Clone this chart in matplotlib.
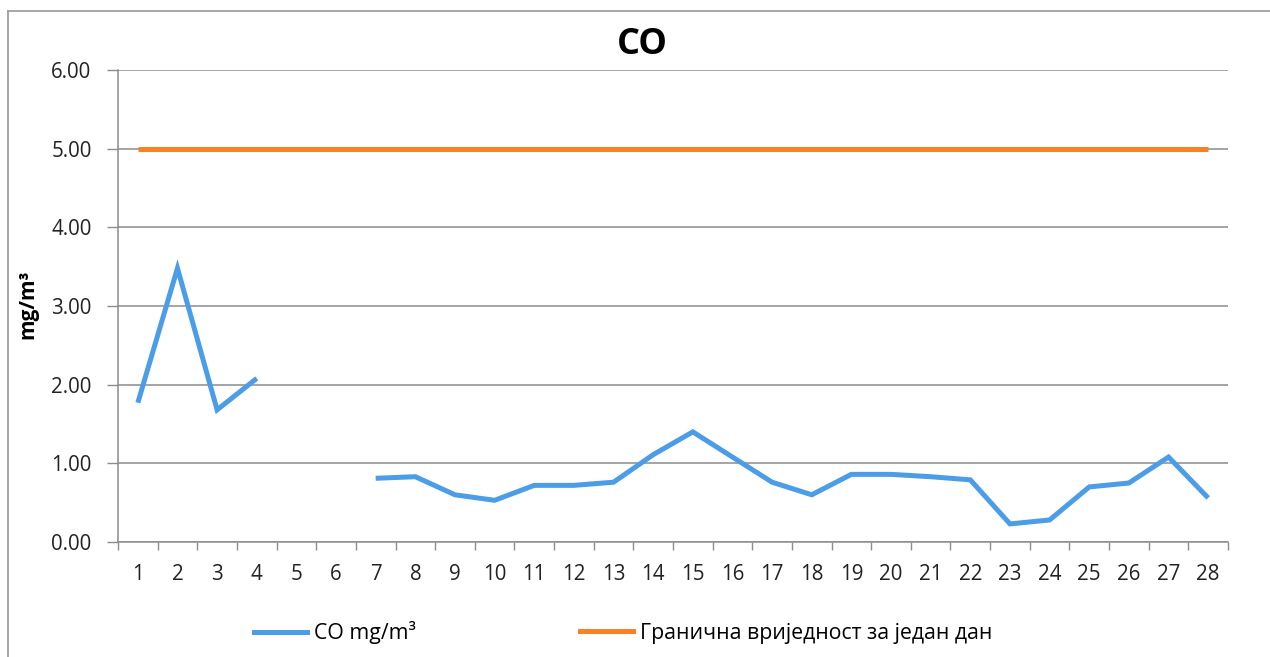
import numpy as np
import matplotlib
matplotlib.use("Agg")
import matplotlib.pyplot as plt
from matplotlib.lines import Line2D

plt.rcParams['font.family'] = ['Open Sans', 'DejaVu Sans']

days = list(range(1, 29))
co_values = [1.77, 3.48, 1.68, 2.08, np.nan, np.nan, 0.81, 0.83, 0.60, 0.53,
             0.72, 0.72, 0.76, 1.11, 1.40, 1.08, 0.76, 0.60, 0.86, 0.86,
             0.83, 0.79, 0.23, 0.28, 0.70, 0.75, 1.08, 0.56]
limit_values = [5.0] * 28
y_ticks = [0, 1, 2, 3, 4, 5, 6]
title = "CO"
y_label = "mg/m³"
series_names = ["CO mg/m³", "Гранична вриједност за један дан"]

W, H = 1270, 657
fig = plt.figure(figsize=(W / 100, H / 100), dpi=100)
L, R, T, B = 118, 1228, 70, 542
ax = fig.add_axes([L / W, 1 - B / H, (R - L) / W, (B - T) / H])

blue = '#4A9DE6'
orange = '#FF7F27'
grid_c = '#8C8C8C'
text_c = '#222222'

x = np.array(days)
ax.plot(x, limit_values, color=orange, lw=3.6, solid_capstyle='butt', zorder=3)
ax.plot(x, co_values, color=blue, lw=3.6, solid_joinstyle='miter', solid_capstyle='butt', zorder=4)

ax.set_xlim(0.5, 28.5)
ax.set_ylim(0, 6)
ax.set_yticks(y_ticks)
ax.set_yticklabels([f"{v:.2f}" for v in y_ticks])
ax.yaxis.grid(True, color=grid_c, lw=1.1)
ax.set_axisbelow(True)

ax.set_xticks(np.arange(0.5, 29.0, 1.0))
ax.set_xticklabels([])
ax.set_xticks(x, minor=True)
ax.set_xticklabels([str(d) for d in days], minor=True)
ax.tick_params(axis='x', which='major', length=6, width=1, color=grid_c, direction='out')
ax.tick_params(axis='x', which='minor', length=0, pad=16, labelsize=14.8, labelcolor=text_c)
ax.tick_params(axis='y', length=8, width=1, color=grid_c, pad=11, labelsize=14.8, labelcolor=text_c)

for s in ['top', 'right']:
    ax.spines[s].set_visible(False)
for s in ['left', 'bottom']:
    ax.spines[s].set_color(grid_c)
    ax.spines[s].set_linewidth(1.1)

fig.text(642 / W, 1 - 45 / H, title, ha='center', va='center', fontsize=26, fontweight='bold')
fig.text(28 / W, 1 - 304 / H, y_label, ha='center', va='center', rotation=90, fontsize=15, fontweight='bold')

# outer chart-area border (top and left edges visible)
fig.add_artist(Line2D([8 / W, 1.0], [1 - 11 / H, 1 - 11 / H], transform=fig.transFigure,
                      color='#A0A0A0', lw=1.3))
fig.add_artist(Line2D([8 / W, 8 / W], [0, 1 - 11 / H], transform=fig.transFigure,
                      color='#A0A0A0', lw=1.3))

h1 = Line2D([], [], color=blue, lw=3.6)
h2 = Line2D([], [], color=orange, lw=3.6)
kw = dict(frameon=False, fontsize=15.3, handlelength=2.5, handletextpad=0.3, borderpad=0, borderaxespad=0)
fig.legend([h1], [series_names[0]], loc='center left', bbox_to_anchor=(254 / W, 1 - 633 / H), **kw)
fig.legend([h2], [series_names[1]], loc='center left', bbox_to_anchor=(580 / W, 1 - 633 / H), **kw)

fig.savefig('out.png', dpi=100)
